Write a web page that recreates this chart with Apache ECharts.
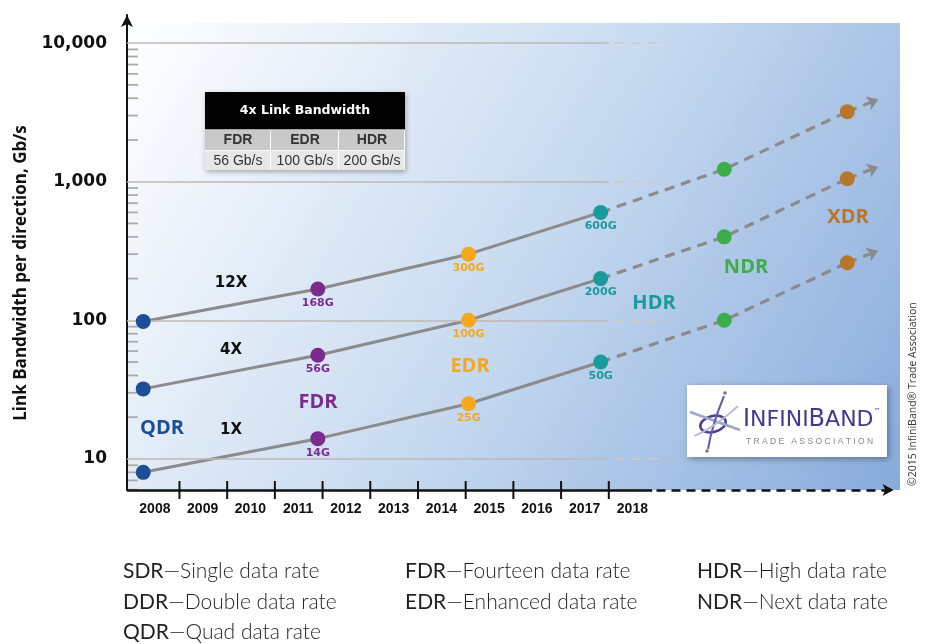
<!DOCTYPE html>
<html><head><meta charset="utf-8">
<script src="https://cdn.jsdelivr.net/npm/echarts@6/dist/echarts.min.js"></script>
<style>html,body{margin:0;padding:0;background:#fff}#c{width:932px;height:644px}</style>
</head><body><div id="c"></div>
<script>
// ---------------- data ----------------
const yearLabels = ['2008','2009','2010','2011','2012','2013','2014','2015','2016','2017','2018'];
const generations = ['QDR','FDR','EDR','HDR','NDR','XDR'];
const genYears = [2007.74, 2011.40, 2014.56, 2017.33, 2019.92, 2022.50];
const linkNames = ['1X','4X','12X'];
const bw1x  = [8, 14, 25, 50, 100, 260];
const bw4x  = [32, 56, 100, 200, 400, 1050];
const bw12x = [98, 168, 300, 600, 1230, 3200];
const arrowYear = 2023.15;
const arrowTips = [318, 1283, 3931];
const labelledGens = ['FDR','EDR','HDR'];
const decadeTicks = [10, 100, 1000, 10000];
const minorSteps = [2,3,4,5,6,7,8,9];
const tableTitle = '4x Link Bandwidth';
const tableHeads = ['FDR','EDR','HDR'];
const tableValues = ['56 Gb/s','100 Gb/s','200 Gb/s'];
const legendTerms = ['SDR','DDR','QDR','FDR','EDR','HDR','NDR'];
const legendTexts = ['Single data rate','Double data rate','Quad data rate','Fourteen data rate','Enhanced data rate','High data rate','Next data rate'];
const yTitle = 'Link Bandwidth per direction, Gb/s';
const copyright = '\u00A92015 InfiniBand\u00AE Trade Association';

// ---------------- styles / layout ----------------
const genColors = ['#1c4e98','#7a2b8b','#f5a81d','#1b9a9b','#3cad4a','#b8762a'];
const yMin = 5.966, yMax = 15945;
const xMin = 2007.4, xMax = 2023.5;
const gridSolidEnd = 2017.50, gridDashStart = 2017.62, gridDashEnd = 2018.72;
const axisSolidEnd = 2018.41, axisDashStart = 2018.5, axisDashEnd = 2023.47;
const lineGray = '#8b8b8b';

const bwSets = [bw1x, bw4x, bw12x];
const series = [];

// minor ticks (log 2..9) + gridlines + x axis line
const minorVals = [];
[1, 10, 100, 1000].forEach(d => minorSteps.forEach(s => { const v = d * s; if (v > yMin && v < 10000) minorVals.push(v); }));
const gridLines = [];
decadeTicks.forEach(d => {
  gridLines.push([{coord:[xMin, d], lineStyle:{color:'#bfb9b3', width:1.5, type:'solid'}}, {coord:[gridSolidEnd, d]}]);
  gridLines.push([{coord:[gridDashStart, d], lineStyle:{color:'#d3c9c1', width:1.5, type:[10,7]}}, {coord:[gridDashEnd, d]}]);
});
gridLines.push([{coord:[xMin, yMin], lineStyle:{color:'#111', width:2.5, type:'solid'}}, {coord:[axisSolidEnd, yMin]}]);
gridLines.push([{coord:[axisDashStart, yMin], lineStyle:{color:'#111', width:2.5, type:[9,6]}}, {coord:[axisDashEnd, yMin], symbol:'arrow', symbolSize:[9,11]}]);

series.push({
  type:'custom', xAxisIndex:1, yAxisIndex:1, z:1, clip:false, silent:true,
  data: minorVals.map(v => [xMin, v]),
  renderItem: (params, api) => {
    const p = api.coord([api.value(0), api.value(1)]);
    return {type:'line', shape:{x1:p[0]+1, y1:p[1], x2:p[0]+11, y2:p[1]}, style:{stroke:'#ababab', lineWidth:1.8}};
  },
  markLine: {silent:true, symbol:['none','none'], label:{show:false}, animation:false, data: gridLines}
});

// x-axis year-boundary ticks (between year labels)
series.push({
  type:'custom', xAxisIndex:1, yAxisIndex:1, z:6, clip:false, silent:true,
  data: yearLabels.slice(0, 10).map(y => [Number(y) + 0.5, yMin]),
  renderItem: (params, api) => {
    const p = api.coord([api.value(0), api.value(1)]);
    return {type:'line', shape:{x1:p[0], y1:p[1]-9, x2:p[0], y2:p[1]+9}, style:{stroke:'#111', lineWidth:2}};
  }
});

// solid & dashed link lines
bwSets.forEach((bw, k) => {
  series.push({
    name: linkNames[k] + ' solid', type:'line', xAxisIndex:1, yAxisIndex:1, z:3, symbol:'none', silent:true,
    data: genYears.slice(0,4).map((y,i) => [y, bw[i]]),
    lineStyle:{color:lineGray, width:3}
  });
  series.push({
    name: linkNames[k] + ' planned', type:'line', xAxisIndex:1, yAxisIndex:1, z:3, symbol:'none', silent:true, clip:false,
    data: genYears.slice(3).map((y,i) => [y, bw[i+3]]),
    lineStyle:{color:lineGray, width:3.2, type:[10,7]},
    markLine:{silent:true, symbol:['none','arrow'], symbolSize:11, label:{show:false}, animation:false,
      lineStyle:{color:lineGray, width:3.2, type:[10,7]},
      data:[[{coord:[genYears[5], bw[5]]}, {coord:[arrowYear, arrowTips[k]]}]]}
  });
});

// generation points
generations.forEach((g, i) => {
  const showLab = labelledGens.indexOf(g) >= 0;
  series.push({
    name: g, type:'scatter', xAxisIndex:1, yAxisIndex:1, z:5, symbolSize:15, silent:true,
    itemStyle:{color:genColors[i], opacity:1},
    data: bwSets.map(bw => [genYears[i], bw[i]]),
    label:{show:showLab, position:'bottom', distance:1, formatter:p => p.value[1] + 'G',
      color:genColors[i], fontFamily:'DejaVu Sans', fontWeight:'bold', fontSize:11}
  });
});

// ---------------- graphics ----------------
const graphics = [];
graphics.push({type:'rect', z:-10, silent:true, shape:{x:127, y:23, width:773, height:467},
  style:{fill:new echarts.graphic.LinearGradient(0,0,1,1,[
    {offset:0, color:'#ffffff'}, {offset:0.2, color:'#eaf1f9'}, {offset:0.5, color:'#c9dbf0'}, {offset:1, color:'#88abdb'}])}});

// y title & copyright
graphics.push({type:'text', z:100, x:21, y:273, rotation:Math.PI/2, silent:true,
  style:{text:yTitle, fill:'#111', fontFamily:'Open Sans', fontWeight:'bold', fontSize:17, align:'center', verticalAlign:'middle'}});
graphics.push({type:'text', z:100, x:913, y:486, rotation:Math.PI/2, silent:true,
  style:{text:copyright, fill:'#333', fontFamily:'Open Sans', fontSize:10.5, align:'left', verticalAlign:'middle'}});

// link-width labels
const linkLabelPos = [[231,430],[231,350],[231,283]];
linkNames.forEach((n,k) => graphics.push({type:'text', z:100, x:linkLabelPos[k][0], y:linkLabelPos[k][1], silent:true,
  style:{text:n, fill:'#111', fontFamily:'DejaVu Sans', fontWeight:'bold', fontSize:15, align:'center', verticalAlign:'middle'}}));
// generation labels
const genLabelPos = [[162,428],[318,402],[470,366],[654,303],[746,267],[848,217]];
generations.forEach((g,i) => graphics.push({type:'text', z:100, x:genLabelPos[i][0], y:genLabelPos[i][1], silent:true,
  style:{text:g, fill:genColors[i], fontFamily:'Open Sans', fontWeight:'bold', fontSize:20, align:'center', verticalAlign:'middle'}}));

// table
const tX = 205, tW = 200, cW = [66, 68, 66];
graphics.push({type:'rect', z:99, silent:true, shape:{x:tX, y:92, width:tW, height:78}, style:{fill:'#fff', shadowBlur:5, shadowColor:'rgba(0,0,0,0.3)', shadowOffsetX:1, shadowOffsetY:2}});
graphics.push({type:'rect', z:100, silent:true, shape:{x:tX, y:92, width:tW, height:37.5}, style:{fill:'#000'}});
graphics.push({type:'text', z:101, x:tX + tW/2, y:111, silent:true, style:{text:tableTitle, fill:'#fff', fontFamily:'DejaVu Sans', fontWeight:'bold', fontSize:12.5, align:'center', verticalAlign:'middle'}});
let cx = tX;
tableHeads.forEach((h, j) => {
  graphics.push({type:'rect', z:100, silent:true, shape:{x:cx, y:129.5, width:cW[j]-1, height:20.5}, style:{fill:'#c9c9c9'}});
  graphics.push({type:'rect', z:100, silent:true, shape:{x:cx, y:151, width:cW[j]-1, height:19}, style:{fill:'#e7e7e7'}});
  graphics.push({type:'text', z:101, x:cx + cW[j]/2, y:140.5, silent:true, style:{text:h, fill:'#333', fontFamily:'Liberation Sans', fontWeight:'bold', fontSize:14, align:'center', verticalAlign:'middle'}});
  graphics.push({type:'text', z:101, x:cx + cW[j]/2, y:161, silent:true, style:{text:tableValues[j], fill:'#333', fontFamily:'Liberation Sans', fontSize:14, align:'center', verticalAlign:'middle'}});
  cx += cW[j];
});

// logo
graphics.push({type:'rect', z:100, silent:true, shape:{x:687, y:385, width:200, height:72}, style:{fill:'#fff', shadowBlur:6, shadowColor:'rgba(0,0,0,0.35)', shadowOffsetX:2, shadowOffsetY:2}});
graphics.push({type:'ellipse', z:101, silent:true, shape:{cx:713, cy:424, rx:13, ry:8}, rotation:0.25, originX:713, originY:424, style:{fill:'none', stroke:'#4b3e92', lineWidth:2.5}});
graphics.push({type:'bezierCurve', z:101, silent:true, shape:{x1:690, y1:412, cpx1:712, cpy1:420, x2:740, y2:430}, style:{fill:'none', stroke:'#9ea6c8', lineWidth:2.5}});
graphics.push({type:'bezierCurve', z:101, silent:true, shape:{x1:724, y1:396, cpx1:712, cpy1:425, x2:708, y2:449}, style:{fill:'none', stroke:'#6a5aa8', lineWidth:2}});
graphics.push({type:'bezierCurve', z:101, silent:true, shape:{x1:694, y1:436, cpx1:714, cpy1:428, x2:738, y2:406}, style:{fill:'none', stroke:'#b7bdd8', lineWidth:1.8}});
graphics.push({type:'circle', z:101, silent:true, shape:{cx:725, cy:393, r:1.8}, style:{fill:'#777'}});
graphics.push({type:'circle', z:101, silent:true, shape:{cx:707, cy:451, r:1.8}, style:{fill:'#777'}});
graphics.push({type:'text', z:101, x:743, y:432, silent:true, style:{text:'{a|I}{b|NFINI}{a|B}{b|AND}{c|\u2122}',
  verticalAlign:'bottom', align:'left',
  rich:{a:{fontFamily:'DejaVu Sans', fontSize:24, fill:'#41398f', color:'#41398f'},
        b:{fontFamily:'DejaVu Sans', fontSize:22, fill:'#41398f', color:'#41398f'},
        c:{fontFamily:'DejaVu Sans', fontSize:7, fill:'#41398f', color:'#41398f', verticalAlign:'top', padding:[0,0,14,0]}}}});
graphics.push({type:'text', z:101, x:746, y:442, silent:true, style:{text:'T R A D E   A S S O C I A T I O N', fill:'#888', fontFamily:'Liberation Sans', fontSize:8.5, align:'left', verticalAlign:'middle'}});

// bottom definitions
const legendSlots = [[0,0],[0,1],[0,2],[1,0],[1,1],[2,0],[2,1]];
const legendColX = [123, 405, 697], legendRowY = [571, 602, 632];
legendTerms.forEach((t,i) => graphics.push({type:'text', z:100, silent:true, x:legendColX[legendSlots[i][0]], y:legendRowY[legendSlots[i][1]],
  style:{text:'{a|' + t + '}{b|\u2014' + legendTexts[i] + '}', align:'left', verticalAlign:'middle',
    rich:{a:{fontFamily:'Lato', fontWeight:400, fontSize:21, fill:'#231f20', color:'#231f20'},
          b:{fontFamily:'Lato', fontWeight:300, fontSize:21, fill:'#231f20', color:'#231f20'}}}}));

const option = {
  animation:false,
  backgroundColor:'#ffffff',
  grid:[
    {left:131, right:37, top:15, bottom:154},
    {left:127, right:37, top:15, bottom:154}
  ],
  xAxis:[
    {gridIndex:0, type:'category', data:yearLabels.concat(['','','','','']), boundaryGap:true, position:'bottom', offset:-9,
     axisLine:{show:false}, axisTick:{show:false},
     axisLabel:{interval:0, margin:21, color:'#111', fontFamily:'Liberation Sans', fontWeight:'bold', fontSize:14},
     splitLine:{show:false}},
    {gridIndex:1, type:'value', min:xMin, max:xMax, show:false}
  ],
  yAxis:[
    {gridIndex:0, type:'value', show:false},
    {gridIndex:1, type:'log', logBase:10, min:yMin, max:yMax,
     axisLine:{show:true, lineStyle:{color:'#111', width:2}, symbol:['none','arrow'], symbolSize:[9,12]},
     axisTick:{show:false}, splitLine:{show:false}, minorTick:{show:false},
     axisLabel:{margin:20, color:'#111', fontFamily:'DejaVu Sans', fontWeight:'bold', fontSize:17, showMinLabel:false, showMaxLabel:false,
       formatter:(v) => { const l = Math.log10(v); return Math.abs(l - Math.round(l)) < 1e-6 ? Math.round(v).toLocaleString('en-US') : ''; }}}
  ],
  series: series,
  graphic: graphics
};
const chart = echarts.init(document.getElementById('c'), null, {renderer:'canvas'});
chart.setOption(option);
</script></body></html>
